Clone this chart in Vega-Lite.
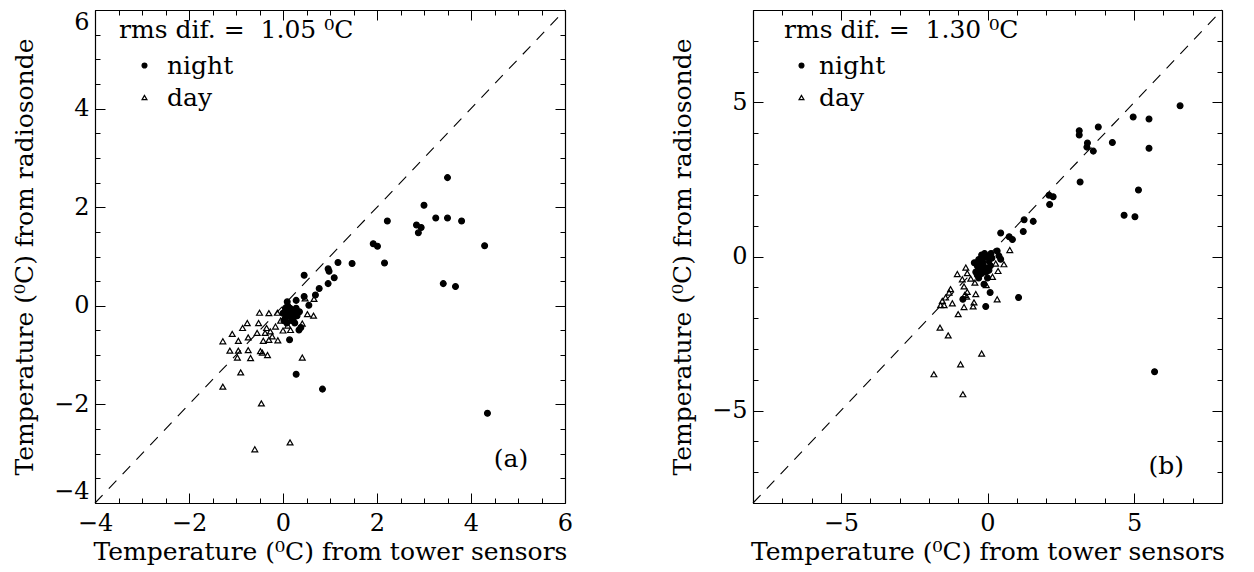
{
  "$schema": "https://vega.github.io/schema/vega-lite/v6.json",
  "background": "white",
  "padding": {"left": 12, "top": -2, "right": 5, "bottom": 2},
  "bounds": "flush",
  "spacing": 188,
  "datasets": {
    "pts": [
      {"p": "a", "k": "night", "x": 3.50, "y": 2.60},
      {"p": "a", "k": "night", "x": 3.00, "y": 2.04},
      {"p": "a", "k": "night", "x": 2.22, "y": 1.72},
      {"p": "a", "k": "night", "x": 2.84, "y": 1.64},
      {"p": "a", "k": "night", "x": 2.94, "y": 1.59},
      {"p": "a", "k": "night", "x": 2.88, "y": 1.48},
      {"p": "a", "k": "night", "x": 3.25, "y": 1.78},
      {"p": "a", "k": "night", "x": 3.50, "y": 1.78},
      {"p": "a", "k": "night", "x": 3.80, "y": 1.72},
      {"p": "a", "k": "night", "x": 4.29, "y": 1.22},
      {"p": "a", "k": "night", "x": 1.92, "y": 1.26},
      {"p": "a", "k": "night", "x": 2.01, "y": 1.21},
      {"p": "a", "k": "night", "x": 2.16, "y": 0.87},
      {"p": "a", "k": "night", "x": 1.47, "y": 0.86},
      {"p": "a", "k": "night", "x": 1.17, "y": 0.88},
      {"p": "a", "k": "night", "x": 0.96, "y": 0.75},
      {"p": "a", "k": "night", "x": 0.98, "y": 0.70},
      {"p": "a", "k": "night", "x": 1.09, "y": 0.57},
      {"p": "a", "k": "night", "x": 0.96, "y": 0.45},
      {"p": "a", "k": "night", "x": 0.45, "y": 0.62},
      {"p": "a", "k": "night", "x": 0.77, "y": 0.35},
      {"p": "a", "k": "night", "x": 0.69, "y": 0.22},
      {"p": "a", "k": "night", "x": 0.45, "y": 0.19},
      {"p": "a", "k": "night", "x": 0.55, "y": 0.01},
      {"p": "a", "k": "night", "x": 0.28, "y": 0.11},
      {"p": "a", "k": "night", "x": 0.09, "y": 0.08},
      {"p": "a", "k": "night", "x": 3.41, "y": 0.45},
      {"p": "a", "k": "night", "x": 3.67, "y": 0.39},
      {"p": "a", "k": "night", "x": 4.35, "y": -2.18},
      {"p": "a", "k": "night", "x": 0.28, "y": -1.39},
      {"p": "a", "k": "night", "x": 0.84, "y": -1.69},
      {"p": "a", "k": "night", "x": 0.14, "y": -0.69},
      {"p": "a", "k": "night", "x": 0.34, "y": -0.49},
      {"p": "a", "k": "night", "x": 0.38, "y": -0.44},
      {"p": "a", "k": "night", "x": 0.05, "y": -0.05},
      {"p": "a", "k": "night", "x": 0.10, "y": -0.10},
      {"p": "a", "k": "night", "x": 0.15, "y": -0.05},
      {"p": "a", "k": "night", "x": 0.20, "y": -0.15},
      {"p": "a", "k": "night", "x": 0.12, "y": -0.20},
      {"p": "a", "k": "night", "x": 0.05, "y": -0.25},
      {"p": "a", "k": "night", "x": 0.18, "y": -0.30},
      {"p": "a", "k": "night", "x": 0.25, "y": -0.10},
      {"p": "a", "k": "night", "x": 0.30, "y": -0.20},
      {"p": "a", "k": "night", "x": 0.08, "y": -0.35},
      {"p": "a", "k": "night", "x": 0.22, "y": -0.25},
      {"p": "a", "k": "night", "x": 0.00, "y": -0.15},
      {"p": "a", "k": "night", "x": 0.15, "y": -0.15},
      {"p": "a", "k": "night", "x": 0.10, "y": 0.00},
      {"p": "a", "k": "night", "x": 0.28, "y": -0.05},
      {"p": "a", "k": "night", "x": 0.02, "y": -0.30},
      {"p": "a", "k": "night", "x": 0.25, "y": -0.35},
      {"p": "a", "k": "night", "x": 0.35, "y": -0.12},
      {"p": "a", "k": "day", "x": -0.50, "y": -0.14},
      {"p": "a", "k": "day", "x": -0.30, "y": -0.15},
      {"p": "a", "k": "day", "x": -0.12, "y": -0.14},
      {"p": "a", "k": "day", "x": -0.76, "y": -0.35},
      {"p": "a", "k": "day", "x": -0.52, "y": -0.35},
      {"p": "a", "k": "day", "x": -0.86, "y": -0.45},
      {"p": "a", "k": "day", "x": -1.08, "y": -0.57},
      {"p": "a", "k": "day", "x": -1.28, "y": -0.72},
      {"p": "a", "k": "day", "x": -0.95, "y": -0.71},
      {"p": "a", "k": "day", "x": -0.74, "y": -0.64},
      {"p": "a", "k": "day", "x": -0.55, "y": -0.55},
      {"p": "a", "k": "day", "x": -0.35, "y": -0.45},
      {"p": "a", "k": "day", "x": -0.38, "y": -0.55},
      {"p": "a", "k": "day", "x": -0.27, "y": -0.52},
      {"p": "a", "k": "day", "x": -0.16, "y": -0.42},
      {"p": "a", "k": "day", "x": -0.23, "y": -0.62},
      {"p": "a", "k": "day", "x": -0.30, "y": -0.69},
      {"p": "a", "k": "day", "x": -0.42, "y": -0.71},
      {"p": "a", "k": "day", "x": -0.11, "y": -0.70},
      {"p": "a", "k": "day", "x": 0.00, "y": -0.50},
      {"p": "a", "k": "day", "x": 0.16, "y": -0.49},
      {"p": "a", "k": "day", "x": -1.13, "y": -0.91},
      {"p": "a", "k": "day", "x": -0.95, "y": -0.91},
      {"p": "a", "k": "day", "x": -0.74, "y": -0.90},
      {"p": "a", "k": "day", "x": -0.97, "y": -1.05},
      {"p": "a", "k": "day", "x": -0.69, "y": -1.06},
      {"p": "a", "k": "day", "x": -0.48, "y": -0.92},
      {"p": "a", "k": "day", "x": -0.44, "y": -0.95},
      {"p": "a", "k": "day", "x": -0.33, "y": -1.00},
      {"p": "a", "k": "day", "x": 0.41, "y": -1.05},
      {"p": "a", "k": "day", "x": 0.41, "y": -0.36},
      {"p": "a", "k": "day", "x": 0.52, "y": -0.17},
      {"p": "a", "k": "day", "x": 0.65, "y": -0.20},
      {"p": "a", "k": "day", "x": 0.47, "y": 0.15},
      {"p": "a", "k": "day", "x": 0.66, "y": 0.14},
      {"p": "a", "k": "day", "x": -0.90, "y": -1.35},
      {"p": "a", "k": "day", "x": -1.28, "y": -1.64},
      {"p": "a", "k": "day", "x": -0.46, "y": -1.98},
      {"p": "a", "k": "day", "x": -0.60, "y": -2.91},
      {"p": "a", "k": "day", "x": 0.15, "y": -2.77},
      {"p": "a", "k": "day", "x": 0.10, "y": -0.40},
      {"p": "a", "k": "day", "x": -0.05, "y": -0.30},
      {"p": "b", "k": "night", "x": 6.57, "y": 4.89},
      {"p": "b", "k": "night", "x": 4.97, "y": 4.53},
      {"p": "b", "k": "night", "x": 5.51, "y": 4.46},
      {"p": "b", "k": "night", "x": 5.51, "y": 3.51},
      {"p": "b", "k": "night", "x": 5.70, "y": -3.74},
      {"p": "b", "k": "night", "x": 5.15, "y": 2.16},
      {"p": "b", "k": "night", "x": 4.66, "y": 1.34},
      {"p": "b", "k": "night", "x": 5.03, "y": 1.29},
      {"p": "b", "k": "night", "x": 3.13, "y": 4.08},
      {"p": "b", "k": "night", "x": 3.13, "y": 3.94},
      {"p": "b", "k": "night", "x": 3.16, "y": 2.42},
      {"p": "b", "k": "night", "x": 3.78, "y": 4.20},
      {"p": "b", "k": "night", "x": 3.41, "y": 3.68},
      {"p": "b", "k": "night", "x": 3.39, "y": 3.55},
      {"p": "b", "k": "night", "x": 3.61, "y": 3.42},
      {"p": "b", "k": "night", "x": 4.26, "y": 3.70},
      {"p": "b", "k": "night", "x": 2.10, "y": 1.99},
      {"p": "b", "k": "night", "x": 2.24, "y": 1.94},
      {"p": "b", "k": "night", "x": 2.12, "y": 1.69},
      {"p": "b", "k": "night", "x": 1.25, "y": 1.19},
      {"p": "b", "k": "night", "x": 1.56, "y": 1.14},
      {"p": "b", "k": "night", "x": 1.22, "y": 0.81},
      {"p": "b", "k": "night", "x": 0.45, "y": 0.76},
      {"p": "b", "k": "night", "x": 0.74, "y": 0.64},
      {"p": "b", "k": "night", "x": 0.85, "y": 0.55},
      {"p": "b", "k": "night", "x": 0.33, "y": 0.18},
      {"p": "b", "k": "night", "x": 0.39, "y": 0.02},
      {"p": "b", "k": "night", "x": 0.45, "y": -0.09},
      {"p": "b", "k": "night", "x": 0.09, "y": -1.17},
      {"p": "b", "k": "night", "x": -0.06, "y": -1.62},
      {"p": "b", "k": "night", "x": 1.06, "y": -1.33},
      {"p": "b", "k": "night", "x": -0.84, "y": -1.39},
      {"p": "b", "k": "night", "x": -0.12, "y": -0.90},
      {"p": "b", "k": "night", "x": -0.20, "y": 0.05},
      {"p": "b", "k": "night", "x": -0.10, "y": 0.10},
      {"p": "b", "k": "night", "x": 0.00, "y": 0.00},
      {"p": "b", "k": "night", "x": -0.30, "y": -0.10},
      {"p": "b", "k": "night", "x": -0.15, "y": -0.20},
      {"p": "b", "k": "night", "x": 0.05, "y": -0.15},
      {"p": "b", "k": "night", "x": -0.35, "y": -0.30},
      {"p": "b", "k": "night", "x": -0.25, "y": -0.40},
      {"p": "b", "k": "night", "x": -0.10, "y": -0.35},
      {"p": "b", "k": "night", "x": 0.10, "y": -0.30},
      {"p": "b", "k": "night", "x": -0.40, "y": -0.50},
      {"p": "b", "k": "night", "x": -0.20, "y": -0.55},
      {"p": "b", "k": "night", "x": -0.05, "y": -0.50},
      {"p": "b", "k": "night", "x": -0.30, "y": -0.70},
      {"p": "b", "k": "night", "x": -0.45, "y": -0.20},
      {"p": "b", "k": "night", "x": 0.00, "y": -0.70},
      {"p": "b", "k": "night", "x": 0.15, "y": -0.05},
      {"p": "b", "k": "night", "x": -0.15, "y": -0.05},
      {"p": "b", "k": "night", "x": -0.35, "y": -0.60},
      {"p": "b", "k": "night", "x": 0.05, "y": -0.45},
      {"p": "b", "k": "night", "x": -0.20, "y": -0.25},
      {"p": "b", "k": "night", "x": 0.12, "y": 0.10},
      {"p": "b", "k": "day", "x": 0.76, "y": 0.21},
      {"p": "b", "k": "day", "x": 0.56, "y": -0.25},
      {"p": "b", "k": "day", "x": 0.36, "y": -0.47},
      {"p": "b", "k": "day", "x": 0.17, "y": -0.66},
      {"p": "b", "k": "day", "x": 0.28, "y": -0.23},
      {"p": "b", "k": "day", "x": -0.74, "y": -0.36},
      {"p": "b", "k": "day", "x": -1.03, "y": -0.57},
      {"p": "b", "k": "day", "x": -0.69, "y": -0.54},
      {"p": "b", "k": "day", "x": -0.86, "y": -0.74},
      {"p": "b", "k": "day", "x": -0.57, "y": -0.72},
      {"p": "b", "k": "day", "x": -0.43, "y": -0.85},
      {"p": "b", "k": "day", "x": -0.04, "y": -0.93},
      {"p": "b", "k": "day", "x": -0.80, "y": -0.97},
      {"p": "b", "k": "day", "x": -0.69, "y": -1.15},
      {"p": "b", "k": "day", "x": -0.40, "y": -1.22},
      {"p": "b", "k": "day", "x": -0.78, "y": -1.25},
      {"p": "b", "k": "day", "x": -0.71, "y": -1.30},
      {"p": "b", "k": "day", "x": -1.26, "y": -1.06},
      {"p": "b", "k": "day", "x": -1.31, "y": -1.17},
      {"p": "b", "k": "day", "x": -1.43, "y": -1.33},
      {"p": "b", "k": "day", "x": -1.54, "y": -1.44},
      {"p": "b", "k": "day", "x": -1.60, "y": -1.58},
      {"p": "b", "k": "day", "x": -1.20, "y": -1.52},
      {"p": "b", "k": "day", "x": -1.48, "y": -1.58},
      {"p": "b", "k": "day", "x": -0.80, "y": -1.64},
      {"p": "b", "k": "day", "x": -0.49, "y": -1.62},
      {"p": "b", "k": "day", "x": -0.46, "y": -1.49},
      {"p": "b", "k": "day", "x": 0.33, "y": -1.39},
      {"p": "b", "k": "day", "x": -1.00, "y": -1.87},
      {"p": "b", "k": "day", "x": -1.62, "y": -2.31},
      {"p": "b", "k": "day", "x": -1.34, "y": -2.56},
      {"p": "b", "k": "day", "x": -0.20, "y": -3.15},
      {"p": "b", "k": "day", "x": -0.92, "y": -3.50},
      {"p": "b", "k": "day", "x": -1.83, "y": -3.82},
      {"p": "b", "k": "day", "x": -0.84, "y": -4.47}
    ]
  },
  "config": {
    "view": {"stroke": null},
    "font": "DejaVu Serif",
    "axis": {
      "labelFont": "DejaVu Serif", "titleFont": "DejaVu Serif",
      "labelFontSize": 24, "titleFontSize": 25, "titleFontWeight": "normal",
      "labelColor": "black", "titleColor": "black",
      "domainColor": "black", "tickColor": "black", "domainWidth": 1.2, "tickWidth": 1,
      "grid": false, "labelFlush": false, "labelOverlap": false, "labelBound": false
    },
    "legend": {
      "labelFont": "DejaVu Serif", "titleFont": "DejaVu Serif",
      "labelFontSize": 25, "titleFontSize": 25, "titleFontWeight": "normal",
      "labelColor": "black", "titleColor": "black", "titleLimit": 600, "labelLimit": 300,
      "symbolStrokeColor": "black", "symbolStrokeWidth": 1.2, "symbolSize": 24
    }
  },
  "resolve": {
    "scale": {"shape": "independent", "fill": "independent", "stroke": "independent"},
    "legend": {"shape": "independent", "fill": "independent", "stroke": "independent"}
  },
  "hconcat": [
    {
      "width": 470, "height": 493,
      "layer": [
        {
          "data": {"name": "pts"},
          "transform": [{"filter": "datum.p === 'a'"}],
          "mark": {"type": "point", "strokeWidth": 1.2, "opacity": 1, "size": 34},
          "encoding": {
            "x": {"field": "x", "type": "quantitative", "scale": {"domain": [-4, 6], "nice": false, "zero": false},
              "axis": {"orient": "bottom", "values": [-4,-3.5,-3,-2.5,-2,-1.5,-1,-0.5,0,0.5,1,1.5,2,2.5,3,3.5,4,4.5,5,5.5,6],
                "tickSize": {"condition": {"test": "datum.value % 2 === 0", "value": -10}, "value": -5},
                "labelExpr": "datum.value % 2 === 0 ? format(datum.value, 'd') : ''",
                "labelPadding": 18, "title": "Temperature (⁰C) from tower sensors", "titlePadding": -1}},
            "y": {"field": "y", "type": "quantitative", "scale": {"domain": [-4, 6], "nice": false, "zero": false},
              "axis": {"orient": "left", "values": [-4,-3.5,-3,-2.5,-2,-1.5,-1,-0.5,0,0.5,1,1.5,2,2.5,3,3.5,4,4.5,5,5.5,6],
                "tickSize": {"condition": {"test": "datum.value % 2 === 0", "value": -10}, "value": -5},
                "labelExpr": "datum.value % 2 === 0 ? format(datum.value, 'd') : ''",
                "labelFlush": true,
                "labelPadding": 16, "title": "Temperature (⁰C) from radiosonde", "titlePadding": 16}},
            "shape": {"field": "k", "type": "nominal", "scale": {"domain": ["night", "day"], "range": ["circle", "triangle-up"]},
              "legend": {"title": "rms dif. =\u00a0 1.05 ⁰C", "orient": "none", "legendX": 24, "legendY": 8, "titlePadding": 10, "rowPadding": 6, "symbolOffset": 13, "labelOffset": 10}},
            "fill": {"field": "k", "type": "nominal", "scale": {"domain": ["night", "day"], "range": ["black", "transparent"]},
              "legend": {"title": "rms dif. =\u00a0 1.05 ⁰C", "orient": "none", "legendX": 24, "legendY": 8, "titlePadding": 10, "rowPadding": 6, "symbolOffset": 13, "labelOffset": 10}},
            "stroke": {"field": "k", "type": "nominal", "scale": {"domain": ["night", "day"], "range": ["black", "black"]},
              "legend": {"title": "rms dif. =\u00a0 1.05 ⁰C", "orient": "none", "legendX": 24, "legendY": 8, "titlePadding": 10, "rowPadding": 6, "symbolOffset": 13, "labelOffset": 10}}
          }
        },
        {
          "data": {"values": [{}]},
          "mark": {"type": "rule", "stroke": "black", "strokeWidth": 1.1, "strokeDash": [11, 9]},
          "encoding": {
            "x": {"datum": -4, "type": "quantitative", "scale": {"domain": [-4, 6], "nice": false, "zero": false},
              "axis": {"orient": "top", "values": [-4,-3.5,-3,-2.5,-2,-1.5,-1,-0.5,0,0.5,1,1.5,2,2.5,3,3.5,4,4.5,5,5.5,6],
                "tickSize": {"condition": {"test": "datum.value % 2 === 0", "value": -10}, "value": -5},
                "labels": false, "title": null}},
            "y": {"datum": -4, "type": "quantitative", "scale": {"domain": [-4, 6], "nice": false, "zero": false},
              "axis": {"orient": "right", "values": [-4,-3.5,-3,-2.5,-2,-1.5,-1,-0.5,0,0.5,1,1.5,2,2.5,3,3.5,4,4.5,5,5.5,6],
                "tickSize": {"condition": {"test": "datum.value % 2 === 0", "value": -10}, "value": -5},
                "labels": false, "title": null}},
            "x2": {"datum": 6},
            "y2": {"datum": 6}
          }
        },
        {
          "data": {"values": [{}]},
          "mark": {"type": "text", "font": "DejaVu Serif", "fontSize": 25, "color": "black"},
          "encoding": {
            "x": {"datum": 4.85, "type": "quantitative", "axis": null},
            "y": {"datum": -3.1, "type": "quantitative", "axis": null},
            "text": {"value": "(a)"}
          }
        }
      ],
      "resolve": {"axis": {"x": "independent", "y": "independent"}}
    },
    {
      "width": 469, "height": 493,
      "layer": [
        {
          "data": {"name": "pts"},
          "transform": [{"filter": "datum.p === 'b'"}],
          "mark": {"type": "point", "strokeWidth": 1.2, "opacity": 1, "size": 34},
          "encoding": {
            "x": {"field": "x", "type": "quantitative", "scale": {"domain": [-8, 8], "nice": false, "zero": false},
              "axis": {"orient": "bottom", "values": [-8,-7,-6,-5,-4,-3,-2,-1,0,1,2,3,4,5,6,7,8],
                "tickSize": {"condition": {"test": "datum.value % 5 === 0", "value": -10}, "value": -5},
                "labelExpr": "datum.value % 5 === 0 ? format(datum.value, 'd') : ''",
                "labelPadding": 18, "title": "Temperature (⁰C) from tower sensors", "titlePadding": -1}},
            "y": {"field": "y", "type": "quantitative", "scale": {"domain": [-8, 8], "nice": false, "zero": false},
              "axis": {"orient": "left", "values": [-8,-7,-6,-5,-4,-3,-2,-1,0,1,2,3,4,5,6,7,8],
                "tickSize": {"condition": {"test": "datum.value % 5 === 0", "value": -10}, "value": -5},
                "labelExpr": "datum.value % 5 === 0 ? format(datum.value, 'd') : ''",
                "labelPadding": 16, "title": "Temperature (⁰C) from radiosonde", "titlePadding": 16}},
            "shape": {"field": "k", "type": "nominal", "scale": {"domain": ["night", "day"], "range": ["circle", "triangle-up"]},
              "legend": {"title": "rms dif. =\u00a0 1.30 ⁰C", "orient": "none", "legendX": 31, "legendY": 8, "titlePadding": 10, "rowPadding": 6, "symbolOffset": 5, "labelOffset": 5}},
            "fill": {"field": "k", "type": "nominal", "scale": {"domain": ["night", "day"], "range": ["black", "transparent"]},
              "legend": {"title": "rms dif. =\u00a0 1.30 ⁰C", "orient": "none", "legendX": 31, "legendY": 8, "titlePadding": 10, "rowPadding": 6, "symbolOffset": 5, "labelOffset": 5}},
            "stroke": {"field": "k", "type": "nominal", "scale": {"domain": ["night", "day"], "range": ["black", "black"]},
              "legend": {"title": "rms dif. =\u00a0 1.30 ⁰C", "orient": "none", "legendX": 31, "legendY": 8, "titlePadding": 10, "rowPadding": 6, "symbolOffset": 5, "labelOffset": 5}}
          }
        },
        {
          "data": {"values": [{}]},
          "mark": {"type": "rule", "stroke": "black", "strokeWidth": 1.1, "strokeDash": [11, 9]},
          "encoding": {
            "x": {"datum": -8, "type": "quantitative", "scale": {"domain": [-8, 8], "nice": false, "zero": false},
              "axis": {"orient": "top", "values": [-8,-7,-6,-5,-4,-3,-2,-1,0,1,2,3,4,5,6,7,8],
                "tickSize": {"condition": {"test": "datum.value % 5 === 0", "value": -10}, "value": -5},
                "labels": false, "title": null}},
            "y": {"datum": -8, "type": "quantitative", "scale": {"domain": [-8, 8], "nice": false, "zero": false},
              "axis": {"orient": "right", "values": [-8,-7,-6,-5,-4,-3,-2,-1,0,1,2,3,4,5,6,7,8],
                "tickSize": {"condition": {"test": "datum.value % 5 === 0", "value": -10}, "value": -5},
                "labels": false, "title": null}},
            "x2": {"datum": 8},
            "y2": {"datum": 8}
          }
        },
        {
          "data": {"values": [{}]},
          "mark": {"type": "text", "font": "DejaVu Serif", "fontSize": 25, "color": "black"},
          "encoding": {
            "x": {"datum": 6.1, "type": "quantitative", "axis": null},
            "y": {"datum": -6.8, "type": "quantitative", "axis": null},
            "text": {"value": "(b)"}
          }
        }
      ],
      "resolve": {"axis": {"x": "independent", "y": "independent"}}
    }
  ]
}
